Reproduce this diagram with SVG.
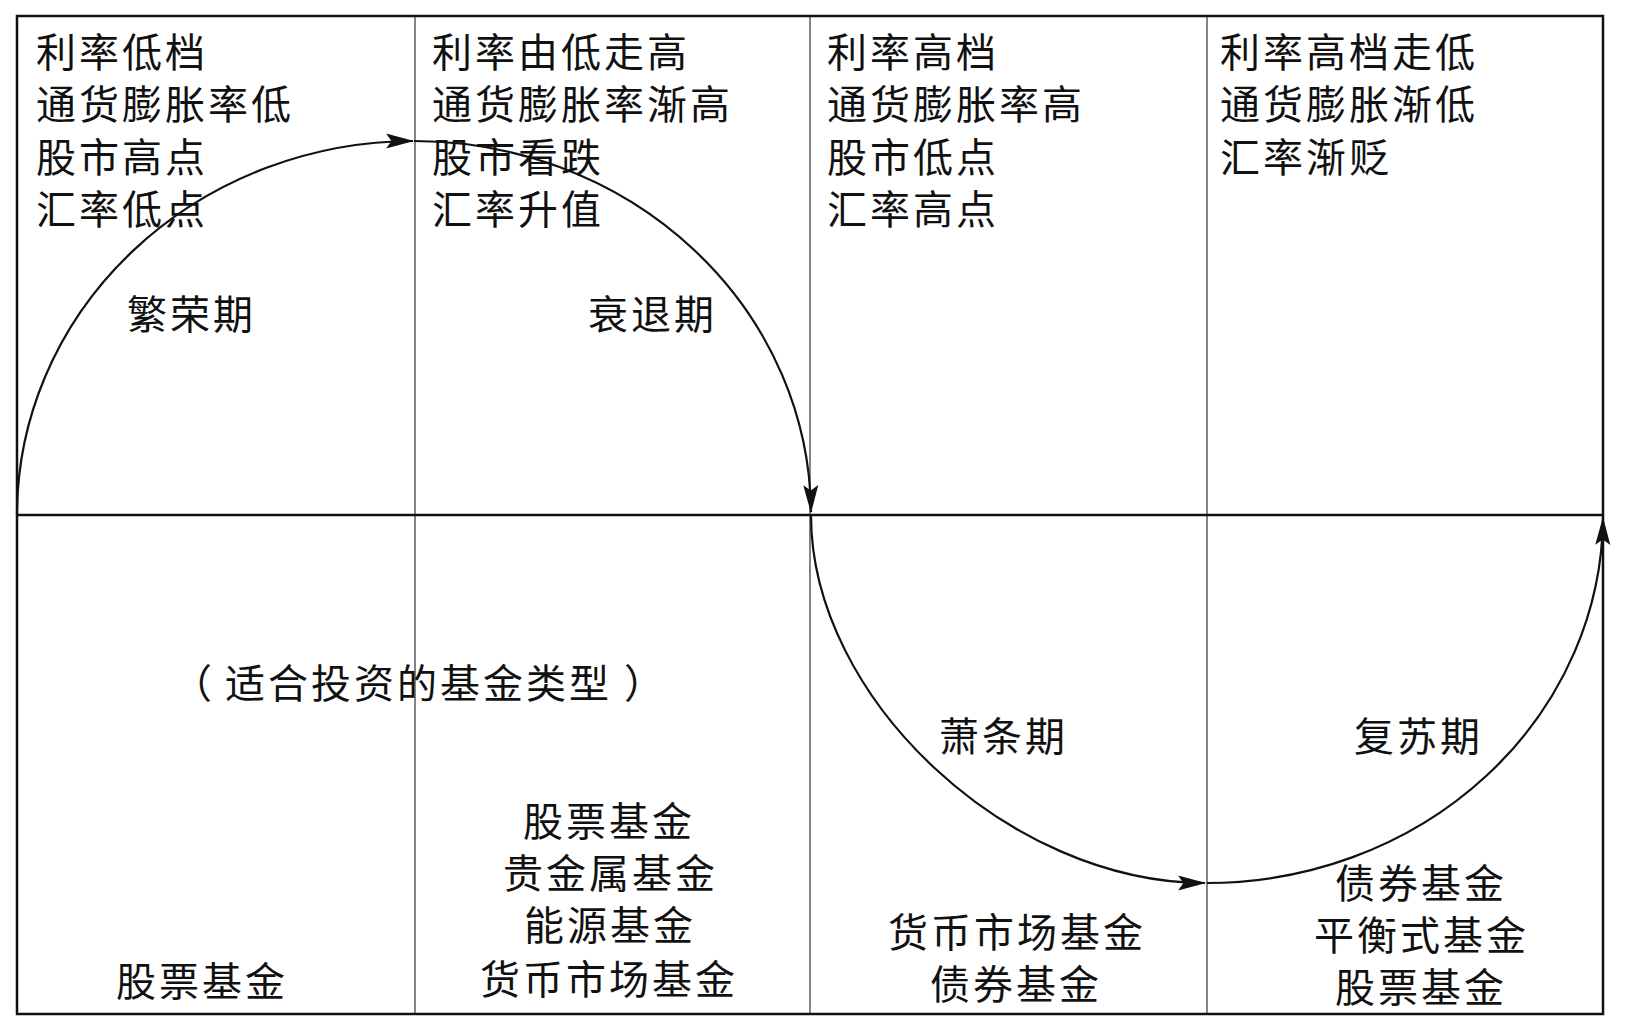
<svg xmlns="http://www.w3.org/2000/svg" width="1628" height="1032" viewBox="0 0 1628 1032">
<style>
text{font-family:"Liberation Sans","Noto Sans CJK SC","Noto Sans CJK TC",sans-serif;font-size:40px;letter-spacing:3px;fill:#111}
.frame{fill:none;stroke:#111;stroke-width:2.5}
.div{stroke:#333;stroke-width:1.2}
.curve{fill:none;stroke:#111;stroke-width:2.2;marker-end:url(#arr)}
</style>
<defs>
<marker id="arr" markerUnits="userSpaceOnUse" markerWidth="28" markerHeight="16" viewBox="0 0 26 14" refX="25" refY="7" orient="auto">
<path d="M0,0 L26,7 L0,14 L5,7 Z" fill="#111"/>
</marker>
</defs>
<rect width="1628" height="1032" fill="#fff"/>
<g id="grid">
<line class="div" x1="415" y1="16" x2="415" y2="1014"/>
<line class="div" x1="810" y1="16" x2="810" y2="1014"/>
<line class="div" x1="1207" y1="16" x2="1207" y2="1014"/>
<rect class="frame" x="17" y="16" width="1586" height="998"/>
<line class="frame" x1="17" y1="515" x2="1603" y2="515"/>
</g>
<g id="col1-top">
<text x="36" y="67">利率低档</text>
<text x="36" y="119">通货膨胀率低</text>
<text x="36" y="172">股市高点</text>
<text x="36" y="224">汇率低点</text>
</g>
<g id="col2-top">
<text x="432" y="67">利率由低走高</text>
<text x="432" y="119">通货膨胀率渐高</text>
<text x="432" y="172">股市看跌</text>
<text x="432" y="224">汇率升值</text>
</g>
<g id="col3-top">
<text x="827" y="67">利率高档</text>
<text x="827" y="119">通货膨胀率高</text>
<text x="827" y="172">股市低点</text>
<text x="827" y="224">汇率高点</text>
</g>
<g id="col4-top">
<text x="1220" y="67">利率高档走低</text>
<text x="1220" y="119">通货膨胀渐低</text>
<text x="1220" y="172">汇率渐贬</text>
</g>
<g id="phases">
<text id="boom" x="127" y="329">繁荣期</text>
<text id="recession" x="588" y="329">衰退期</text>
<text id="depression" x="939" y="751">萧条期</text>
<text id="recovery" x="1354" y="751">复苏期</text>
</g>
<g id="fund-caption">
<text y="698"><tspan x="172">（</tspan><tspan x="225">适合投资的基金类型</tspan><tspan dx="12">）</tspan></text>
</g>
<g id="col1-funds">
<text x="116" y="996">股票基金</text>
</g>
<g id="col2-funds">
<text x="523" y="836">股票基金</text>
<text x="503" y="888">贵金属基金</text>
<text x="524" y="940">能源基金</text>
<text x="480" y="994">货币市场基金</text>
</g>
<g id="col3-funds">
<text x="888" y="947">货币市场基金</text>
<text x="930" y="999">债券基金</text>
</g>
<g id="col4-funds">
<text x="1335" y="898">债券基金</text>
<text x="1314" y="950">平衡式基金</text>
<text x="1335" y="1002">股票基金</text>
</g>
<g id="connectors">
<path class="curve" d="M17,515 A397,374 0 0,1 413,141"/>
<path class="curve" d="M414,141 A397,374 0 0,1 811,512"/>
<path class="curve" d="M811,515 C811,699 1009,883 1205,883"/>
<path class="curve" d="M1207,883 A396,368 0 0,0 1603,518"/>
</g>
</svg>
